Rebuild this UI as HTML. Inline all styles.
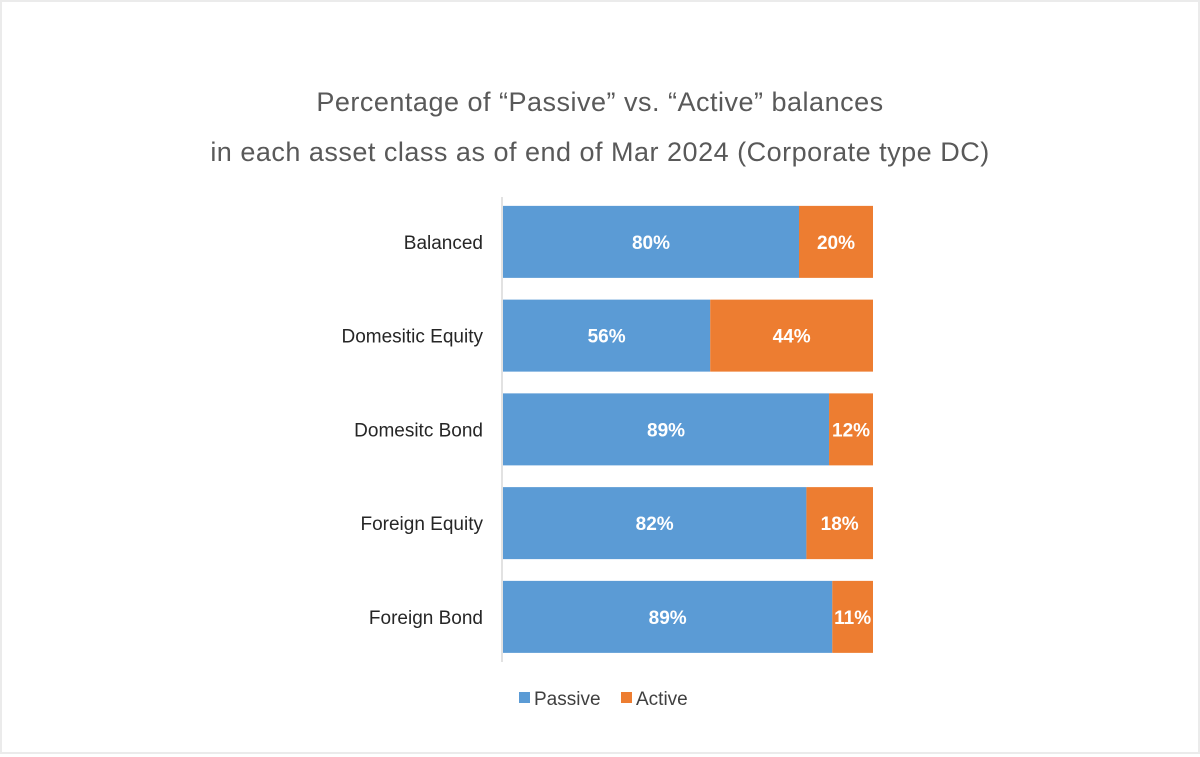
<!DOCTYPE html>
<html><head><meta charset="utf-8"><style>
body{margin:0;background:#fff;}
#wrap{position:relative;width:1196px;height:750px;border:2px solid #ebebeb;background:#fff;font-family:"Liberation Sans","DejaVu Sans",sans-serif;}
</style></head><body>
<div id="wrap">
<svg id="chart" width="1196" height="750">
<text x="598" y="109" text-anchor="middle" font-size="27" fill="#595959" letter-spacing="0.5">Percentage of “Passive” vs. “Active” balances</text>
<text x="598" y="159" text-anchor="middle" font-size="27" fill="#595959" letter-spacing="0.5">in each asset class as of end of Mar 2024 (Corporate type DC)</text>
<line x1="500" y1="195" x2="500" y2="660" stroke="#d9d9d9" stroke-width="1.5"/>
<g id="bars"></g>
<rect x="517" y="690" width="11" height="11" fill="#5b9bd5"/>
<text x="532" y="703" font-size="19" fill="#404040">Passive</text>
<rect x="619" y="690" width="11" height="11" fill="#ed7d31"/>
<text x="634" y="703" font-size="19" fill="#404040">Active</text>
</svg>
</div>
<script>
const categories = ["Balanced","Domesitic Equity","Domesitc Bond","Foreign Equity","Foreign Bond"];
const passive = [80,56,89,82,89];
const active = [20,44,12,18,11];
const NS="http://www.w3.org/2000/svg";
const g=document.getElementById('bars');
const x0=501, plotW=370, top0=193, band=93.75, barH=72;
function xScale(f){return x0+f*plotW;}
function yBand(i){return top0+i*band+(band-barH)/2;}
function mk(tag,attrs){const e=document.createElementNS(NS,tag);for(const k in attrs)e.setAttribute(k,attrs[k]);return e;}
categories.forEach((c,i)=>{
  const tot=passive[i]+active[i];
  const y=yBand(i);
  const xp=xScale(0), xa=xScale(passive[i]/tot), xe=xScale(1);
  const r1=mk('rect',{x:xp,y:y,width:xa-xp,height:barH,fill:'#5b9bd5'});
  
  
  g.appendChild(r1);
  const r2=mk('rect',{x:xa,y:y,width:xe-xa,height:barH,fill:'#ed7d31'});
  
  
  g.appendChild(r2);
  const t1=mk('text',{x:(xp+xa)/2,y:y+barH/2+7,'text-anchor':'middle','font-size':19,'font-weight':'bold',fill:'#fff'});
  t1.textContent=passive[i]+'%';
  
  
  g.appendChild(t1);
  const t2=mk('text',{x:(xa+xe)/2,y:y+barH/2+7,'text-anchor':'middle','font-size':19,'font-weight':'bold',fill:'#fff'});
  t2.textContent=active[i]+'%';
  
  
  g.appendChild(t2);
  const cl=mk('text',{x:481,y:y+barH/2+7,'text-anchor':'end','font-size':19,fill:'#262626'});
  cl.textContent=c;
  
  
  g.appendChild(cl);
});
</script>
</body></html>
